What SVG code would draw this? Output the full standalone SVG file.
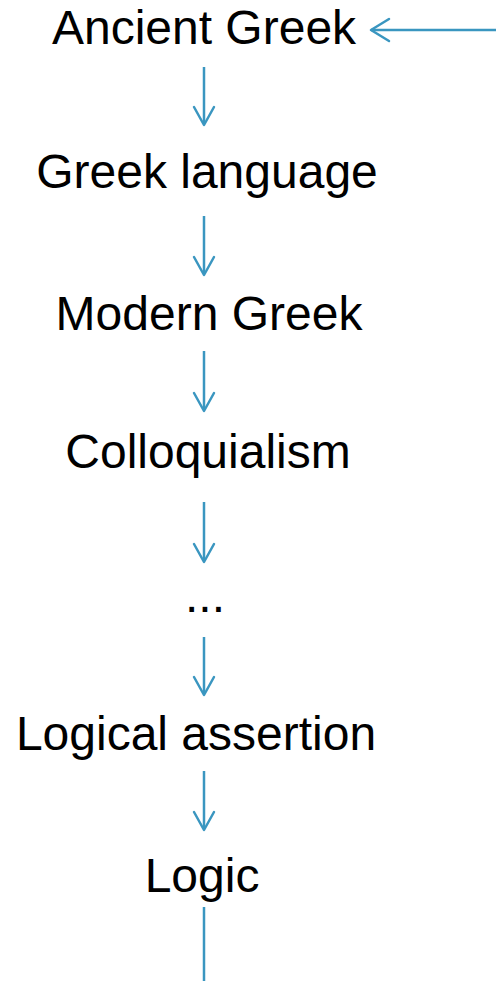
<svg xmlns="http://www.w3.org/2000/svg" width="496" height="981" viewBox="0 0 496 981">
<style>
text{font-family:"Liberation Sans","Open Sans",Arial,sans-serif;font-size:48px;fill:#000;text-anchor:middle}
.c{stroke:#3a96c0;stroke-width:2.5;fill:none}
.h{stroke:#3a96c0;stroke-width:2.5;fill:none;stroke-linecap:round;stroke-linejoin:round}
</style>
<rect width="496" height="981" fill="#fff"/>
<g id="n1"><text x="204" y="44">Ancient Greek</text></g>
<g id="n2"><text x="207" y="188">Greek language</text></g>
<g id="n3"><text x="209" y="330">Modern Greek</text></g>
<g id="n4"><text x="208" y="468">Colloquialism</text></g>
<g id="n5"><text x="205" y="612">...</text></g>
<g id="n6"><text x="196" y="750">Logical assertion</text></g>
<g id="n7"><text x="202" y="892">Logic</text></g>
<g id="connectors">
<line class="c" x1="496" y1="30" x2="371" y2="30"/><polyline class="h" points="389,19 371,30 389,41"/>
<line class="c" x1="204" y1="67" x2="204" y2="124"/><polyline class="h" points="194,107 204,125 214,107"/>
<line class="c" x1="204" y1="216" x2="204" y2="274"/><polyline class="h" points="194,257 204,275 214,257"/>
<line class="c" x1="204" y1="351" x2="204" y2="410"/><polyline class="h" points="194,393 204,411 214,393"/>
<line class="c" x1="204" y1="502" x2="204" y2="561"/><polyline class="h" points="194,544 204,562 214,544"/>
<line class="c" x1="204" y1="637" x2="204" y2="694"/><polyline class="h" points="194,677 204,695 214,677"/>
<line class="c" x1="204" y1="771" x2="204" y2="829"/><polyline class="h" points="194,812 204,830 214,812"/>
<line class="c" x1="204" y1="907" x2="204" y2="981"/>
</g>
</svg>
